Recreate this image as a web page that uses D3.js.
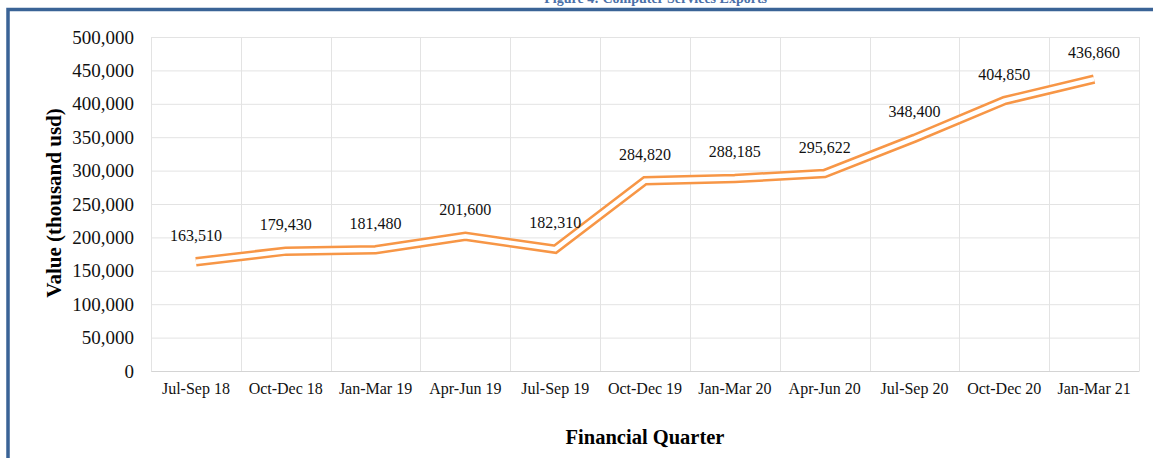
<!DOCTYPE html>
<html>
<head>
<meta charset="utf-8">
<script src="https://cdn.jsdelivr.net/npm/d3@7"></script>
<style>
  html, body { margin: 0; padding: 0; background: #fff; }
  #chartContainer { width: 1153px; height: 458px; }
  text { font-family: "Liberation Serif", "Times New Roman", serif; }
</style>
</head>
<body>
<div id="chartContainer"></div>
<script>
// Chart data
const quarters = ["Jul-Sep 18", "Oct-Dec 18", "Jan-Mar 19", "Apr-Jun 19", "Jul-Sep 19", "Oct-Dec 19",
  "Jan-Mar 20", "Apr-Jun 20", "Jul-Sep 20", "Oct-Dec 20", "Jan-Mar 21"];
const exportValues = [163510, 179430, 181480, 201600, 182310, 284820, 288185, 295622, 348400, 404850, 436860];
const yTicks = [0, 50000, 100000, 150000, 200000, 250000, 300000, 350000, 400000, 450000, 500000];
const titleText = "Figure 4: Computer Services Exports";

const width = 1153;
const height = 458;
const marginTop = 37;
const marginRight = 14;
const marginBottom = 87;
const marginLeft = 151;

const data = quarters.map((q, i) => ({quarter: q, value: exportValues[i]}));

// Scales
const x = d3.scaleBand(quarters, [marginLeft, width - marginRight]).padding(0);
const y = d3.scaleLinear([0, 500000], [height - marginBottom, marginTop]);

const fmt = d3.format(",");
const gridColor = "#e3e3e3";

const svg = d3.create("svg")
  .attr("width", width)
  .attr("height", height)
  .attr("viewBox", [0, 0, width, height]);

svg.append("rect").attr("width", width).attr("height", height).attr("fill", "#fff");

// Title, mostly cut off at the top of the picture (as in the reference)
svg.append("text")
  .attr("x", 767)
  .attr("y", 3)
  .attr("text-anchor", "end")
  .attr("font-size", 14)
  .attr("font-weight", "bold")
  .attr("fill", "#4a6fa8")
  .text(titleText);

// Blue frame
svg.append("path")
  .attr("d", `M8,${height} V9.5 H${width}`)
  .attr("fill", "none")
  .attr("stroke", "#3a6396")
  .attr("stroke-width", 3.5);

// Horizontal grid + y labels
svg.append("g")
  .attr("transform", `translate(${marginLeft},0)`)
  .call(d3.axisLeft(y).tickValues(yTicks).tickFormat(fmt).tickSize(0).tickPadding(17))
  .call(g => g.select(".domain").remove())
  .call(g => g.selectAll(".tick text")
    .attr("font-family", "Liberation Serif")
    .attr("font-size", 19)
    .attr("fill", "#111"))
  .call(g => g.selectAll(".tick").append("line")
    .attr("x2", width - marginLeft - marginRight)
    .attr("stroke", gridColor)
    .attr("stroke-width", 1));

// Vertical grid at category boundaries
svg.append("g")
  .selectAll("line")
  .data(quarters.concat([null]))
  .join("line")
  .attr("x1", (d, i) => Math.round(marginLeft + i * x.bandwidth()) + 0.5)
  .attr("x2", (d, i) => Math.round(marginLeft + i * x.bandwidth()) + 0.5)
  .attr("y1", y(500000))
  .attr("y2", y(0))
  .attr("stroke", gridColor);

// X axis labels
svg.append("g")
  .attr("transform", `translate(0,${y(0)})`)
  .call(d3.axisBottom(x).tickSize(0).tickPadding(12))
  .call(g => g.select(".domain").attr("stroke", "#d4d4d4"))
  .call(g => g.selectAll(".tick text")
    .attr("font-family", "Liberation Serif")
    .attr("font-size", 16)
    .attr("fill", "#111"));

// Axis titles
svg.append("text")
  .attr("transform", `translate(61,203) rotate(-90)`)
  .attr("text-anchor", "middle")
  .attr("font-size", 21)
  .attr("font-weight", "bold")
  .attr("fill", "#000")
  .text("Value (thousand usd)");

svg.append("text")
  .attr("x", 645)
  .attr("y", 444)
  .attr("text-anchor", "middle")
  .attr("font-size", 20.5)
  .attr("font-weight", "bold")
  .attr("fill", "#000")
  .text("Financial Quarter");

// Double (compound) orange line
const line = d3.line()
  .x(d => x(d.quarter) + x.bandwidth() / 2)
  .y(d => y(d.value));

svg.append("path")
  .attr("fill", "none")
  .attr("stroke", "#f79646")
  .attr("stroke-width", 9.5)
  .attr("stroke-linejoin", "miter")
  .attr("d", line(data));

svg.append("path")
  .attr("fill", "none")
  .attr("stroke", "#fff")
  .attr("stroke-width", 4.5)
  .attr("stroke-linejoin", "miter")
  .attr("d", line(data));

// Data labels
svg.append("g")
  .selectAll("text")
  .data(data)
  .join("text")
  .attr("x", d => x(d.quarter) + x.bandwidth() / 2)
  .attr("y", d => y(d.value) - 21)
  .attr("text-anchor", "middle")
  .attr("font-size", 16)
  .attr("fill", "#111")
  .text(d => fmt(d.value));

document.getElementById("chartContainer").append(svg.node());
</script>
</body>
</html>
